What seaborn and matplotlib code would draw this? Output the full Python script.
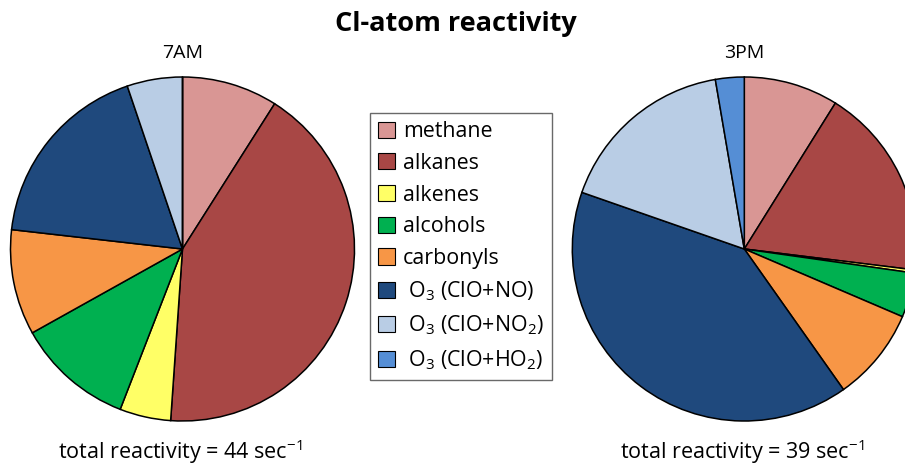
"""
Cl-atom reactivity: 7AM vs 3PM pie charts
"""
import matplotlib
matplotlib.use('Agg')
import matplotlib.pyplot as plt
import seaborn as sns
from matplotlib.patches import Patch

# ── Data ────────────────────────────────────────────────────
categories = ['methane', 'alkanes', 'alkenes', 'alcohols', 'carbonyls',
              'O3 (ClO+NO)', 'O3 (ClO+NO2)', 'O3 (ClO+HO2)']
legend_labels = ['methane', 'alkanes', 'alkenes', 'alcohols', 'carbonyls',
                 ' O$_3$ (ClO+NO)', ' O$_3$ (ClO+NO$_2$)', ' O$_3$ (ClO+HO$_2$)']
am_values = [9.0, 42.1, 4.8, 11.0, 9.9, 18.0, 5.2, 0.0]
pm_values = [8.9, 18.1, 0.3, 4.2, 8.8, 40.2, 17.0, 2.7]
panel_titles = ['7AM', '3PM']
totals = [44, 39]
colors = sns.color_palette(['#D99694', '#A84745', '#FFFF66', '#00B050',
                            '#F79646', '#1F497D', '#B9CDE5', '#558ED5'])

# ── Style ───────────────────────────────────────────────────
FONT = 'Open Sans'
sns.set_style('white')
plt.rcParams['font.family'] = [FONT, 'DejaVu Sans']
plt.rcParams['text.color'] = 'black'
plt.rcParams['mathtext.fontset'] = 'custom'
plt.rcParams['mathtext.rm'] = FONT
plt.rcParams['mathtext.it'] = FONT + ':italic'
plt.rcParams['mathtext.bf'] = FONT + ':bold'

W, H = 905, 465
fig = plt.figure(figsize=(W / 100, H / 100), dpi=100)

# pie geometry in pixels (center x, center y from top, radius)
R = 172
centers = [(182.5, 249), (744.3, 249)]
half = R * 1.25

for (cx, cy), vals, ttl, tot in zip(centers, [am_values, pm_values], panel_titles, totals):
    ax = fig.add_axes([(cx - half) / W, (H - cy - half) / H, 2 * half / W, 2 * half / H])
    ax.pie(vals, colors=colors, startangle=90, counterclock=False,
           wedgeprops=dict(edgecolor='black', linewidth=1.1))
    ax.set_xlim(-1.25, 1.25)
    ax.set_ylim(-1.25, 1.25)
    ax.set_aspect('equal')
    ax.axis('off')
    fig.text(cx / W, 1 - 53 / H, ttl, ha='center', va='center', fontsize=14)
    fig.text((cx - 2) / W, 1 - 452 / H, f'total reactivity = {tot} sec$^{{-1}}$',
             ha='center', va='center', fontsize=15.5)

fig.text(456 / W, 1 - 24 / H, 'Cl-atom reactivity', ha='center', va='center',
         fontsize=19.5, fontweight='bold')

handles = [Patch(facecolor=c, edgecolor='black', linewidth=0.8) for c in colors]
leg = fig.legend(handles, legend_labels, loc='upper left',
                 bbox_to_anchor=(370 / W, 1 - 113 / H), borderaxespad=0,
                 fontsize=15.4, frameon=True, fancybox=False,
                 handlelength=0.78, handleheight=0.78, handletextpad=0.38,
                 labelspacing=0.5, borderpad=0.38)
leg.get_frame().set_edgecolor('#444444')
leg.get_frame().set_linewidth(1.0)

plt.savefig('out.png', dpi=100)
